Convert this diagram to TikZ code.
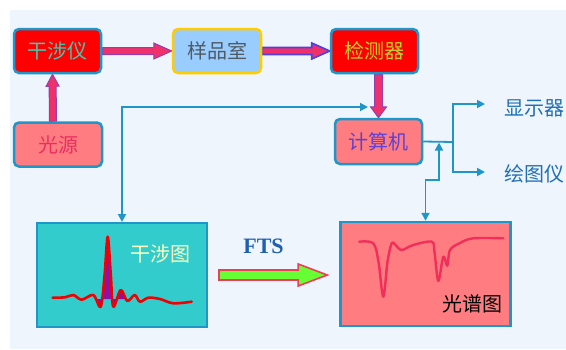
\documentclass[tikz,border=0pt]{standalone}
\usepackage{fontspec}
\newfontfamily\cjk{Noto Sans CJK SC}
\newfontfamily\ftsfont{Liberation Serif}
\usetikzlibrary{calc,arrows.meta}
\definecolor{bgc}{HTML}{EEF5FC}
\definecolor{edge}{HTML}{1E96C8}
\definecolor{boxred}{HTML}{FF0000}
\definecolor{salmon}{HTML}{FF7C80}
\definecolor{skyb}{HTML}{99CCFF}
\definecolor{gold}{HTML}{FFCC00}
\definecolor{turq}{HTML}{33CCCC}
\definecolor{arrpink}{HTML}{F0306A}
\definecolor{arrpurple}{HTML}{9040B0}
\definecolor{arrblue}{HTML}{5040E0}
\definecolor{txtteal}{HTML}{40C8B0}
\definecolor{txtgray}{HTML}{505A64}
\definecolor{txtyg}{HTML}{C0D030}
\definecolor{txtcrim}{HTML}{E83060}
\definecolor{txtviolet}{HTML}{6040D0}
\definecolor{txtblue}{HTML}{2070B8}
\definecolor{txtcream}{HTML}{FFFFC0}
\definecolor{ftsblue}{HTML}{1F5FB0}
\definecolor{grn}{HTML}{66FF33}
\definecolor{grnedge}{HTML}{F03C5A}
\definecolor{curvered}{HTML}{F00000}
\definecolor{curvepurp}{HTML}{8A10A8}
\definecolor{speccurve}{HTML}{F0305A}
\pgfdeclarelayer{bg}
\pgfdeclarelayer{arr}
\pgfsetlayers{bg,arr,main}
\newcommand{\blockarr}[6]{%
  \coordinate (bah) at ($(#3)!#6!(#2)$);
  \path[#1] ($(#2)!#4!90:(#3)$) -- ($(bah)!#4!90:(#3)$) -- ($(bah)!#5!90:(#3)$)
    -- (#3) -- ($(bah)!#5!-90:(#3)$) -- ($(bah)!#4!-90:(#3)$) -- ($(#2)!#4!-90:(#3)$) -- cycle;}
\tikzset{
  box/.style={rounded corners=5pt, line width=2.5pt, draw=edge, minimum width=87pt, minimum height=44pt, inner sep=0pt, font=\cjk\fontsize{20}{20}\selectfont},
  plainlbl/.style={inner sep=0pt, font=\cjk\fontsize{20}{20}\selectfont},
  panel/.style={draw=edge, inner sep=0pt},
  conn/.style={draw=edge, line width=1.8pt, arrows={-}},
  tip/.style={-{Triangle[length=8pt,width=8pt]}},
  tips/.style={{Triangle[length=8pt,width=8pt]}-{Triangle[length=8pt,width=8pt]}},
  bigarr/.style={fill=arrpink, draw=arrpurple, line width=1pt, line join=miter},
  bigarrb/.style={fill=arrpink, draw=arrblue, line width=1.6pt, line join=miter},
  grnarr/.style={fill=grn, draw=grnedge, line width=1.6pt, line join=miter}
}
\begin{document}
\begin{tikzpicture}[x=1pt,y=-1pt]
\useasboundingbox (0,0) rectangle (566,349);
\begin{pgfonlayer}{bg}
\fill[bgc] (10,10) rectangle (566,349);
\end{pgfonlayer}
% blocks
\node[box, fill=boxred, text=txtteal] (ifm) at (57.5,51) {干涉仪};
\node[box, fill=salmon, text=txtcrim, minimum width=88pt] (src) at (58,144.5) {光源};
\node[box, fill=skyb, draw=gold, text=txtgray, minimum width=88pt] (smp) at (217,51) {样品室};
\node[box, fill=boxred, text=txtyg] (det) at (374.5,51) {检测器};
\node[box, fill=salmon, text=txtviolet, minimum height=45pt] (calc) at (378.5,141.5) {计算机};
\node[plainlbl, text=txtblue] (disp) at (534.5,108) {显示器};
\node[plainlbl, text=txtblue] (plot) at (534,174) {绘图仪};
\node[panel, fill=turq, line width=2pt, minimum width=170pt, minimum height=104pt] (ifg) at (122,275) {};
\node[panel, fill=salmon, line width=2.5pt, minimum width=170pt, minimum height=104pt] (spec) at (425.5,274) {};
\node[plainlbl, text=txtcream] (ifglbl) at (160,254) {干涉图};
\node[plainlbl, text=black] (speclbl) at (472.5,304) {光谱图};
\node[inner sep=0pt, text=ftsblue, font=\ftsfont\bfseries\fontsize{22}{22}\selectfont] (fts) at (263.5,246.5) {FTS};
% curves
\fill[curvepurp] (97,299) -- (100.7,306.7) -- (104.3,278.3) -- (107.7,236.7) -- (111,278) -- (113.3,306.7) -- (120.7,290) -- (127.3,301) -- (131,299) -- cycle;
\draw[curvered, line width=2.6pt, line cap=round, line join=round] plot[smooth, tension=0.55] coordinates {
 (52.7,297.7) (65,297.3) (73.3,295) (81.7,299.7) (93.3,295) (100.7,306.7) (104.6,275) (107.7,236.7) (110.8,275) (113.3,306.7)
 (120.7,290) (127.3,301) (134.7,295) (140,301.7) (148.3,297.7) (160,299) (173.3,303.3) (191.7,301.7)};
\draw[speccurve, line width=2.4pt, line cap=round, line join=round] plot[smooth, tension=0.55] coordinates {
 (359.3,241.7) (373.3,243.3) (378.5,262) (383.3,296.7) (387.5,262) (391.7,243.3) (396,245.5) (401.7,250) (413.3,245) (431.7,241.7)
 (434.5,252) (438.3,281) (443.3,256.7) (447.3,265.7) (450,250) (460,243) (473.3,238.3) (503.3,238.3)};
% thin connectors
\coordinate (jn) at (453,142);
\coordinate (dispin) at (485,104);
\coordinate (plotin) at (485,172);
\coordinate (fb) at (439,180);
\coordinate (jn2) at (439,142.5);
\coordinate (dr) at (368,107);
\draw[conn] (calc.east) -- (jn);
\draw[conn, tip] (jn) |- (dispin);
\draw[conn, tip] (jn) |- (plotin);
\draw[conn, tips] (spec.north) |- (fb) -- (jn2);
\draw[conn, tips] (dr) -| (ifg.north);
% block arrows
\coordinate (a3s) at ([xshift=-5pt]src.north);
\coordinate (a3e) at ([xshift=-5pt]ifm.south);
\coordinate (a4s) at (det.south -| calc.north);
\coordinate (g1) at ([xshift=11pt]ifg.east);
\coordinate (g2a) at (g1 -| spec.west);
\coordinate (g2) at ([xshift=-12pt]g2a);
\begin{pgfonlayer}{arr}
\blockarr{bigarr}{ifm.east}{smp.west}{3.5pt}{8pt}{18pt}
\blockarr{bigarrb}{smp.east}{det.west}{3.5pt}{8pt}{18pt}
\blockarr{bigarr}{a3s}{a3e}{3.5pt}{6.5pt}{12pt}
\blockarr{bigarr}{a4s}{calc.north}{4pt}{8pt}{11pt}
\end{pgfonlayer}
\blockarr{grnarr}{g1}{g2}{5pt}{11pt}{29pt}
\end{tikzpicture}
\end{document}
